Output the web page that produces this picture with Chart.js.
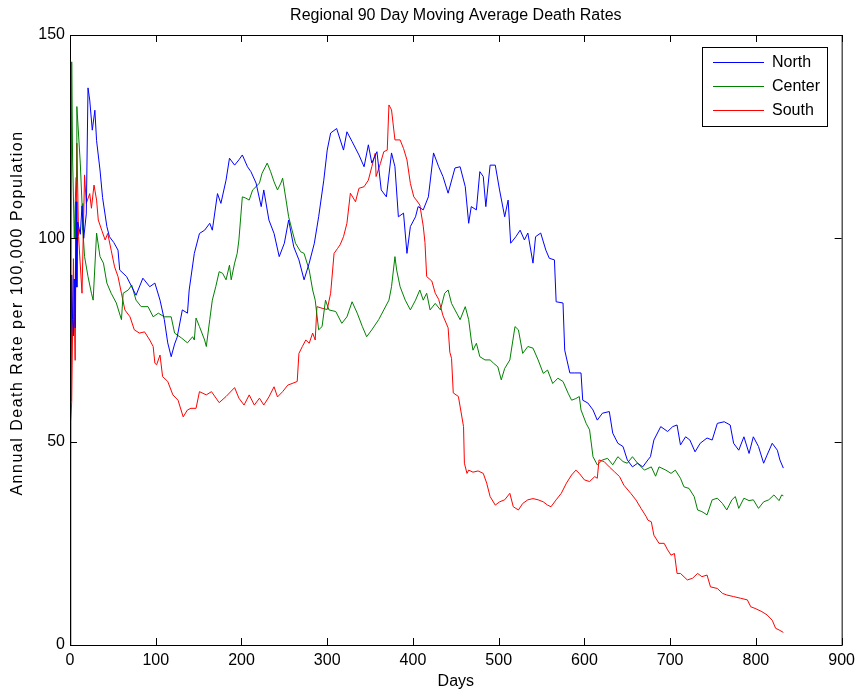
<!DOCTYPE html>
<html>
<head>
<meta charset="utf-8">
<script src="https://cdn.jsdelivr.net/npm/chart.js@4.4.1/dist/chart.umd.min.js"></script>
<style>
  html, body { margin: 0; padding: 0; background: #fff; }
  #wrap { width: 861px; height: 696px; }
</style>
</head>
<body>
<div id="wrap"><canvas id="myChart" width="861" height="696"></canvas></div>
<script>
const seriesNames = ['North', 'Center', 'South'];
const seriesColors = ['#0000ff', '#008000', '#ff0000'];

const xTicks = [0, 100, 200, 300, 400, 500, 600, 700, 800, 900];
const yTicks = [0, 50, 100, 150];

// North (blue)
const northDays = [1,2,3,4,5,6,7,8,9,12,14,16,19,21,23,26,29,31,35,38,43,46,51,56,58,66,72,77,85,93,99,105,110,114,118,122,125,131,137,139,145,151,157,163,166,172,176,182,186,192,197,201,207,211,217,223,226,232,238,244,250,255,261,267,273,279,285,290,296,300,304,311,319,323,329,337,343,348,352,358,363,369,375,379,383,389,393,397,403,406,412,418,424,430,435,441,449,455,461,465,468,474,478,482,485,490,496,501,507,511,514,520,525,530,534,540,543,549,555,559,565,567,575,577,583,588,596,598,604,610,615,621,629,633,639,645,650,656,662,668,674,677,681,689,697,703,708,712,718,723,729,735,743,749,755,763,770,774,780,786,792,797,803,809,813,819,825,828,832];
const northVals = [60,91,80,76,90,78,109,88,104,101,108,100,106,137,134,126.6,131.5,124,116.8,110,102.9,100.4,99,97.1,92.2,90.6,88.1,86,90.2,88.1,89,84.8,80,74.3,70.9,74,75.7,82.4,81.6,87.3,96.3,101.2,102,103.7,102,111,108.6,114.3,119.7,118,119.3,120.5,117.6,116.4,113.6,107.8,111.9,104.5,101.2,95.5,98.8,104.5,97.9,94.7,89.8,93.9,98.8,105.3,114.3,121.7,125.9,127,121.7,126.2,123.8,120.5,117.6,123,118.5,121.3,111.9,110.2,121,117.6,105.3,106.2,96.3,102.9,105.3,107.8,107,110.2,121,117.6,115.2,111.1,117.3,117.6,112.7,103.7,107.8,107,116.4,115.2,107.8,118,118,111.9,105.3,109.4,98.8,100.4,102,99.6,101.3,93.9,100.4,101.3,97.1,95.1,94.7,84.4,84.1,72.5,66.9,66.9,66.9,60.2,59.5,57.8,55.3,57,57.4,52.1,49.6,48.8,45.5,43.8,44.7,43.8,45.5,46.3,50.4,53.7,52.5,53.7,54.1,49.2,51.2,50.4,47.5,49.6,50.9,50.4,54.5,54.9,54.1,49.6,47.9,51.2,47.1,51.2,48.8,44.7,46.7,49.6,47.9,45.5,43.5];

// Center (green)
const centerDays = [0,2,3,5,7,8,12,14,15,17,21,25,27,31,35,39,43,48,54,60,62,68,72,77,83,91,97,103,110,118,122,130,137,143,145,147,151,157,159,163,166,170,174,178,182,186,188,192,195,197,201,205,209,213,217,221,224,230,234,238,242,246,248,252,255,259,263,269,273,279,283,286,290,294,298,302,310,317,323,329,335,341,346,352,360,366,372,375,379,381,385,391,397,403,408,412,416,420,426,432,437,441,445,451,455,461,465,468,470,474,478,484,490,494,499,503,507,513,519,523,528,534,540,546,552,557,563,569,575,581,585,590,594,596,602,606,610,615,621,627,633,639,645,650,656,662,670,678,683,687,695,701,706,712,716,722,728,732,737,743,749,755,761,766,772,776,780,786,792,797,803,809,815,821,827,830,832];
const centerVals = [0,143.4,120,100,115,132.4,118.5,108.6,102,95.5,90.6,86.5,84.8,101.3,95.5,93.9,89,86.5,84.1,80,86.5,87.3,88.5,84.8,83.2,83.2,80.7,81.6,80.7,80.7,76.7,75.5,74.3,75.8,75,80.4,78.3,75,73.4,80,84.8,88.1,91.8,91.4,89.8,93.4,89.8,93.9,96.3,99.6,110.2,109.9,109.4,111.9,112.7,113.6,116,118.5,116.4,113.9,111.9,113.6,114.8,109.4,105.3,102,98.8,96.7,96.3,92.2,87.3,84.8,77.5,78.3,84.8,82.4,82,79.1,80.7,84.4,81.6,78.3,75.8,77.5,80,82.4,84.8,88.1,95.5,92.2,88.1,84.8,82.4,84.8,87.3,84.8,86.5,82.4,84,82.4,86.5,87.3,84,81.6,80,83.2,80,75,72.5,74.2,70.9,70.1,70.1,69.3,68.4,65.2,68,70.1,78.3,77.5,71.7,73.4,73,70.1,66.8,67.6,64.3,65.6,64.8,61.9,60.2,60.6,61.1,57.8,54.5,52.9,46.3,44.3,45.5,45.9,44.3,46.3,45.1,44.7,46.3,44.7,43,43.8,41.5,43.8,43,42.2,43,41,38.9,38.5,36.5,33.2,32.8,32,35.7,36.1,34.8,33.2,35.7,36.5,33.6,36.1,35.5,35.7,33.6,35.2,35.7,36.9,35.5,36.9,36.7];

// South (red)
const southDays = [0,1,2,4,6,8,10,14,17,19,23,25,28,31,33,37,41,44,48,52,56,60,64,70,75,81,87,93,97,99,101,105,108,114,120,126,132,137,141,147,151,159,165,174,182,192,197,203,209,215,221,226,232,238,242,248,254,259,265,267,271,275,279,283,286,288,294,300,304,308,312,315,319,323,327,333,337,343,348,352,356,357,362,366,370,372,375,379,385,389,393,397,401,404,408,412,414,416,422,426,430,435,441,443,445,447,453,459,460,463,465,470,476,482,486,490,496,501,507,513,517,523,528,534,540,546,552,557,561,567,573,579,585,590,594,600,606,612,615,617,623,629,635,641,646,654,660,666,672,674,678,681,687,693,697,701,705,708,712,720,726,732,737,743,747,755,761,766,774,782,790,794,799,807,813,819,823,827,832];
const southVals = [0,55,60,95,70,123.4,100.4,86.5,115.6,108.6,111,107.4,113.1,109.4,104.5,102,99.6,101.2,97.1,93,90.6,86.5,82.4,80.7,77.5,76.7,77,75,73.4,69.3,68.9,71.3,66,64.8,61.5,60.2,56.1,57.8,58.2,58.2,62.3,61.5,62.3,59.6,61.1,63.3,60.7,59,61.5,59,60.7,59,61,63.5,61,62.3,63.9,64.3,64.8,71.7,73.4,75,74.2,76.7,75,83.2,82.8,82.5,86.5,96.3,97.5,98.4,100.4,103.7,111.1,109,112.3,112.7,114.3,117.6,120.9,115.2,118.4,121.3,121.7,132.8,131.6,124.2,124.2,122.1,119.3,113.5,110.2,109.4,108.2,103,99,90.6,89.5,86.5,85,81,78,72,70.5,62,61.1,53.7,44.7,42.2,43,42.5,42.8,42.2,39.8,36.5,34.4,35.2,35.7,37.3,34,33.2,34.8,35.7,36,35.7,35.2,34.4,34,35.7,37.3,39.8,41.8,43,42.2,40.6,40.2,41.4,41,45.5,45.1,43.8,42.6,41.4,39.3,37.3,35.7,33.6,31.6,30.7,30.3,27,25,25,23.4,22.1,22.5,17.6,17.6,16,16.4,17.6,16.8,17.2,14.3,13.9,12.7,12.3,11.9,11.5,11.1,9.4,9,8.2,7.4,6.1,4.1,3.7,3.1];

const FONT = "'Liberation Sans', Arial, sans-serif";

document.addEventListener("DOMContentLoaded", () => {
  const toPoints = (days, vals) => days.map((d, i) => ({ x: d, y: vals[i] }));
  const allDays = [northDays, centerDays, southDays];
  const allVals = [northVals, centerVals, southVals];

  // box, inward ticks, titles and legend drawn the matlab way
  const matlabFrame = {
    id: 'matlabFrame',
    afterDatasetsDraw(chart) {
      const { ctx, chartArea: a, scales } = chart;
      ctx.save();
      ctx.strokeStyle = '#000';
      ctx.lineWidth = 1;
      ctx.strokeRect(a.left + 0.5, a.top + 0.5, a.right - a.left, a.bottom - a.top);
      ctx.beginPath();
      xTicks.forEach((t) => {
        const x = Math.round(scales.x.getPixelForValue(t)) + 0.5;
        ctx.moveTo(x, a.bottom); ctx.lineTo(x, a.bottom - 7);
        ctx.moveTo(x, a.top); ctx.lineTo(x, a.top + 7);
      });
      yTicks.forEach((t) => {
        const y = Math.round(scales.y.getPixelForValue(t)) + 0.5;
        ctx.moveTo(a.left, y); ctx.lineTo(a.left + 7, y);
        ctx.moveTo(a.right, y); ctx.lineTo(a.right - 7, y);
      });
      ctx.stroke();

      ctx.fillStyle = '#000';
      ctx.font = '16px ' + FONT;
      ctx.textAlign = 'center';
      ctx.textBaseline = 'middle';
      ctx.fillText('Regional 90 Day Moving Average Death Rates', (a.left + a.right) / 2, 16);

      // y label, a bit wider and higher than chart.js would put it
      ctx.save();
      ctx.translate(18, 313);
      ctx.rotate(-Math.PI / 2);
      ctx.letterSpacing = '1.5px';
      ctx.fillText('Annual Death Rate per 100,000 Population', 0, 0);
      ctx.restore();

      // legend
      const lx = 702, ly = 47, lw = 125, lh = 79;
      ctx.fillStyle = '#fff';
      ctx.fillRect(lx, ly, lw, lh);
      ctx.strokeRect(lx + 0.5, ly + 0.5, lw, lh);
      ctx.textAlign = 'left';
      seriesNames.forEach((name, i) => {
        const y = ly + 15 + i * 24;
        ctx.strokeStyle = seriesColors[i];
        ctx.beginPath();
        ctx.moveTo(713, y + 0.5); ctx.lineTo(764, y + 0.5);
        ctx.stroke();
        ctx.fillStyle = '#000';
        ctx.fillText(name, 772, y + 1);
      });
      ctx.restore();
    }
  };

  const ctx = document.getElementById('myChart').getContext('2d');
  new Chart(ctx, {
    type: 'line',
    data: {
      datasets: seriesNames.map((name, i) => ({
        label: name,
        data: toPoints(allDays[i], allVals[i]),
        borderColor: seriesColors[i],
        backgroundColor: seriesColors[i],
        borderWidth: 1,
        pointRadius: 0,
        tension: 0,
        fill: false
      }))
    },
    options: {
      responsive: false,
      animation: false,
      layout: { padding: { top: 35, right: 16, left: 0, bottom: 0 } },
      plugins: {
        legend: { display: false },
        title: { display: false },
        tooltip: { enabled: false }
      },
      scales: {
        x: {
          type: 'linear',
          min: 0,
          max: 900,
          afterFit: (scale) => { scale.height = 51; },
          afterBuildTicks: (scale) => { scale.ticks = xTicks.map((v) => ({ value: v })); },
          grid: { display: false, drawTicks: false },
          border: { display: false },
          ticks: { color: '#000', padding: 6, maxRotation: 0, font: { family: FONT, size: 16 } },
          title: { display: true, text: 'Days', color: '#000', padding: { top: 0, bottom: 5 }, font: { family: FONT, size: 16 } }
        },
        y: {
          min: 0,
          max: 150,
          afterFit: (scale) => { scale.width = 70; },
          afterBuildTicks: (scale) => { scale.ticks = yTicks.map((v) => ({ value: v })); },
          grid: { display: false, drawTicks: false },
          border: { display: false },
          ticks: { color: '#000', padding: 5, font: { family: FONT, size: 16 } },
          title: { display: false }
        }
      }
    },
    plugins: [matlabFrame]
  });
});
</script>
</body>
</html>
